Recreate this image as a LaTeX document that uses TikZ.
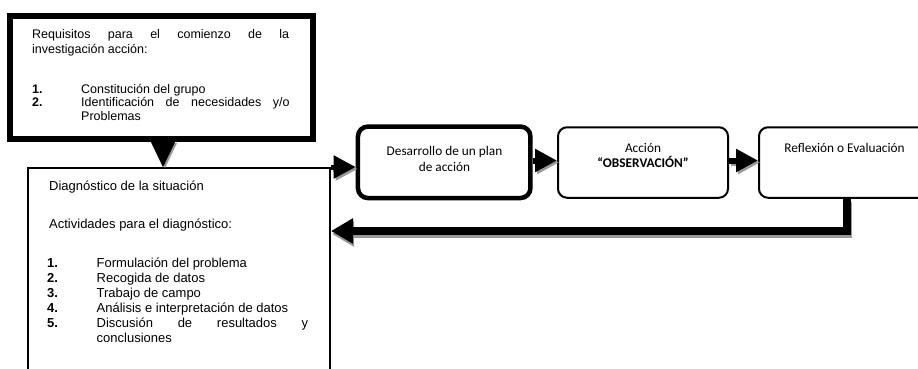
\documentclass[tikz,border=0pt]{standalone}
\usepackage{fontspec}
\setmainfont{Liberation Sans}
\newfontfamily\calfont{Carlito}
\usetikzlibrary{arrows.meta}
\begin{document}
\begin{tikzpicture}[x=1pt,y=-1pt,
  lt/.style={font=\fontsize{12.5}{14}\selectfont, anchor=base west, inner sep=0pt},
  dt/.style={font=\fontsize{13}{15}\selectfont, anchor=base west, inner sep=0pt},
  rt/.style={font=\calfont\fontsize{13.3}{16}\selectfont, anchor=base, inner sep=0pt},
  shade/.style={draw=black!40},
  blk/.style={draw=black},
  tipA/.style={-{Triangle[length=22pt,width=22pt]}},
  tipB/.style={-{Triangle[length=22pt,width=24pt]}},
  tipC/.style={-{Triangle[length=25pt,width=24pt]}}
]
\useasboundingbox (0,0) rectangle (918,368);
\clip (0,0) rectangle (918,368);

% boxes
\node[draw, line width=6pt, minimum width=303pt, minimum height=123pt, inner sep=0pt] (req) at (161.5,77.5) {};
\node[draw, line width=2pt, minimum width=302pt, minimum height=230pt, inner sep=0pt] (diag) at (179,283) {};
\node[draw, line width=4.5pt, rounded corners=10pt, minimum width=172.5pt, minimum height=71.5pt, inner sep=0pt] (plan) at (444.2,162.3) {};
\node[draw, line width=2pt, rounded corners=9pt, minimum width=170pt, minimum height=70.5pt, inner sep=0pt] (accion) at (643,162.5) {};
\node[draw, line width=2pt, rounded corners=9pt, minimum width=172pt, minimum height=70.5pt, inner sep=0pt] (refl) at (845,162.5) {};

% helper coordinates
\coordinate (tx) at (163,0);
\coordinate (ay) at (0,160.5);
\coordinate (fbx) at (847,0);
\coordinate (fby) at (0,231);

% down triangle req -> diag
\draw[shade, line width=0.1pt, tipC] ([shift={(2,1)}]req.south -| tx) -- ([shift={(2,1)}]diag.north -| tx);
\draw[blk, line width=0.1pt, tipC] (req.south -| tx) -- (diag.north -| tx);

% diag -> plan
\draw[shade, line width=5pt, tipA] ([shift={(2,2)}]diag.north east) -- ([shift={(2,2)}]diag.north east -| plan.west);
\draw[blk, line width=5pt, tipA] (diag.north east) -- (diag.north east -| plan.west);

% plan -> accion
\draw[shade, line width=6pt, tipA] ([shift={(2,2)}]plan.east |- ay) -- ([shift={(2,2)}]accion.west |- ay);
\draw[blk, line width=6pt, tipA] (plan.east |- ay) -- (accion.west |- ay);

% accion -> refl
\draw[shade, line width=6pt, tipA] ([shift={(2,2)}]accion.east |- ay) -- ([shift={(2,2)}]refl.west |- ay);
\draw[blk, line width=6pt, tipA] (accion.east |- ay) -- (refl.west |- ay);

% feedback refl -> diag
\draw[shade, line width=7.5pt, tipB] ([shift={(1,3)}]fbx |- refl.south) |- ([shift={(1,3)}]diag.east |- fby);
\draw[blk, line width=7.5pt, tipB] (fbx |- refl.south) |- (diag.east |- fby);

% texts top box
\node[lt] (r1) at (32,38.5) {\makebox[257pt][s]{Requisitos para el comienzo de la}};
\node[lt] (r2) at (32,53) {investigación acción:};
\node[lt] (r3n) at (32,93) {\textbf{1.}};
\node[lt] (r3) at (81,93) {Constitución del grupo};
\node[lt] (r4n) at (32,106.5) {\textbf{2.}};
\node[lt] (r4) at (81,106.5) {\makebox[208.5pt][s]{Identificación de necesidades y/o}};
\node[lt] (r5) at (81,120) {Problemas};

% texts diag box
\node[dt] (d1) at (49,190.5) {Diagnóstico de la situación};
\node[dt] (d2) at (49,228) {Actividades para el diagnóstico:};
\node[dt] (d3n) at (47,267) {\textbf{1.}};
\node[dt] (d3) at (96.5,267) {Formulación del problema};
\node[dt] (d4n) at (47,282) {\textbf{2.}};
\node[dt] (d4) at (96.5,282) {Recogida de datos};
\node[dt] (d5n) at (47,297) {\textbf{3.}};
\node[dt] (d5) at (96.5,297) {Trabajo de campo};
\node[dt] (d6n) at (47,312) {\textbf{4.}};
\node[dt] (d6) at (96.5,312) {Análisis e interpretación de datos};
\node[dt] (d7n) at (47,327) {\textbf{5.}};
\node[dt] (d7) at (96.5,327) {\makebox[211.5pt][s]{Discusión de resultados y}};
\node[dt] (d8) at (96.5,342) {conclusiones};

% texts right boxes
\node[rt] (p1) at (444.5,155) {Desarrollo de un plan};
\node[rt] (p2) at (444.5,171) {de acción};
\node[rt] (a1) at (643,152.7) {Acción};
\node[rt] (a2) at (643,167.5) {\bfseries “OBSERVACIÓN”};
\node[rt] (f1) at (844.5,152.7) {Reflexión o Evaluación};
\end{tikzpicture}
\end{document}
